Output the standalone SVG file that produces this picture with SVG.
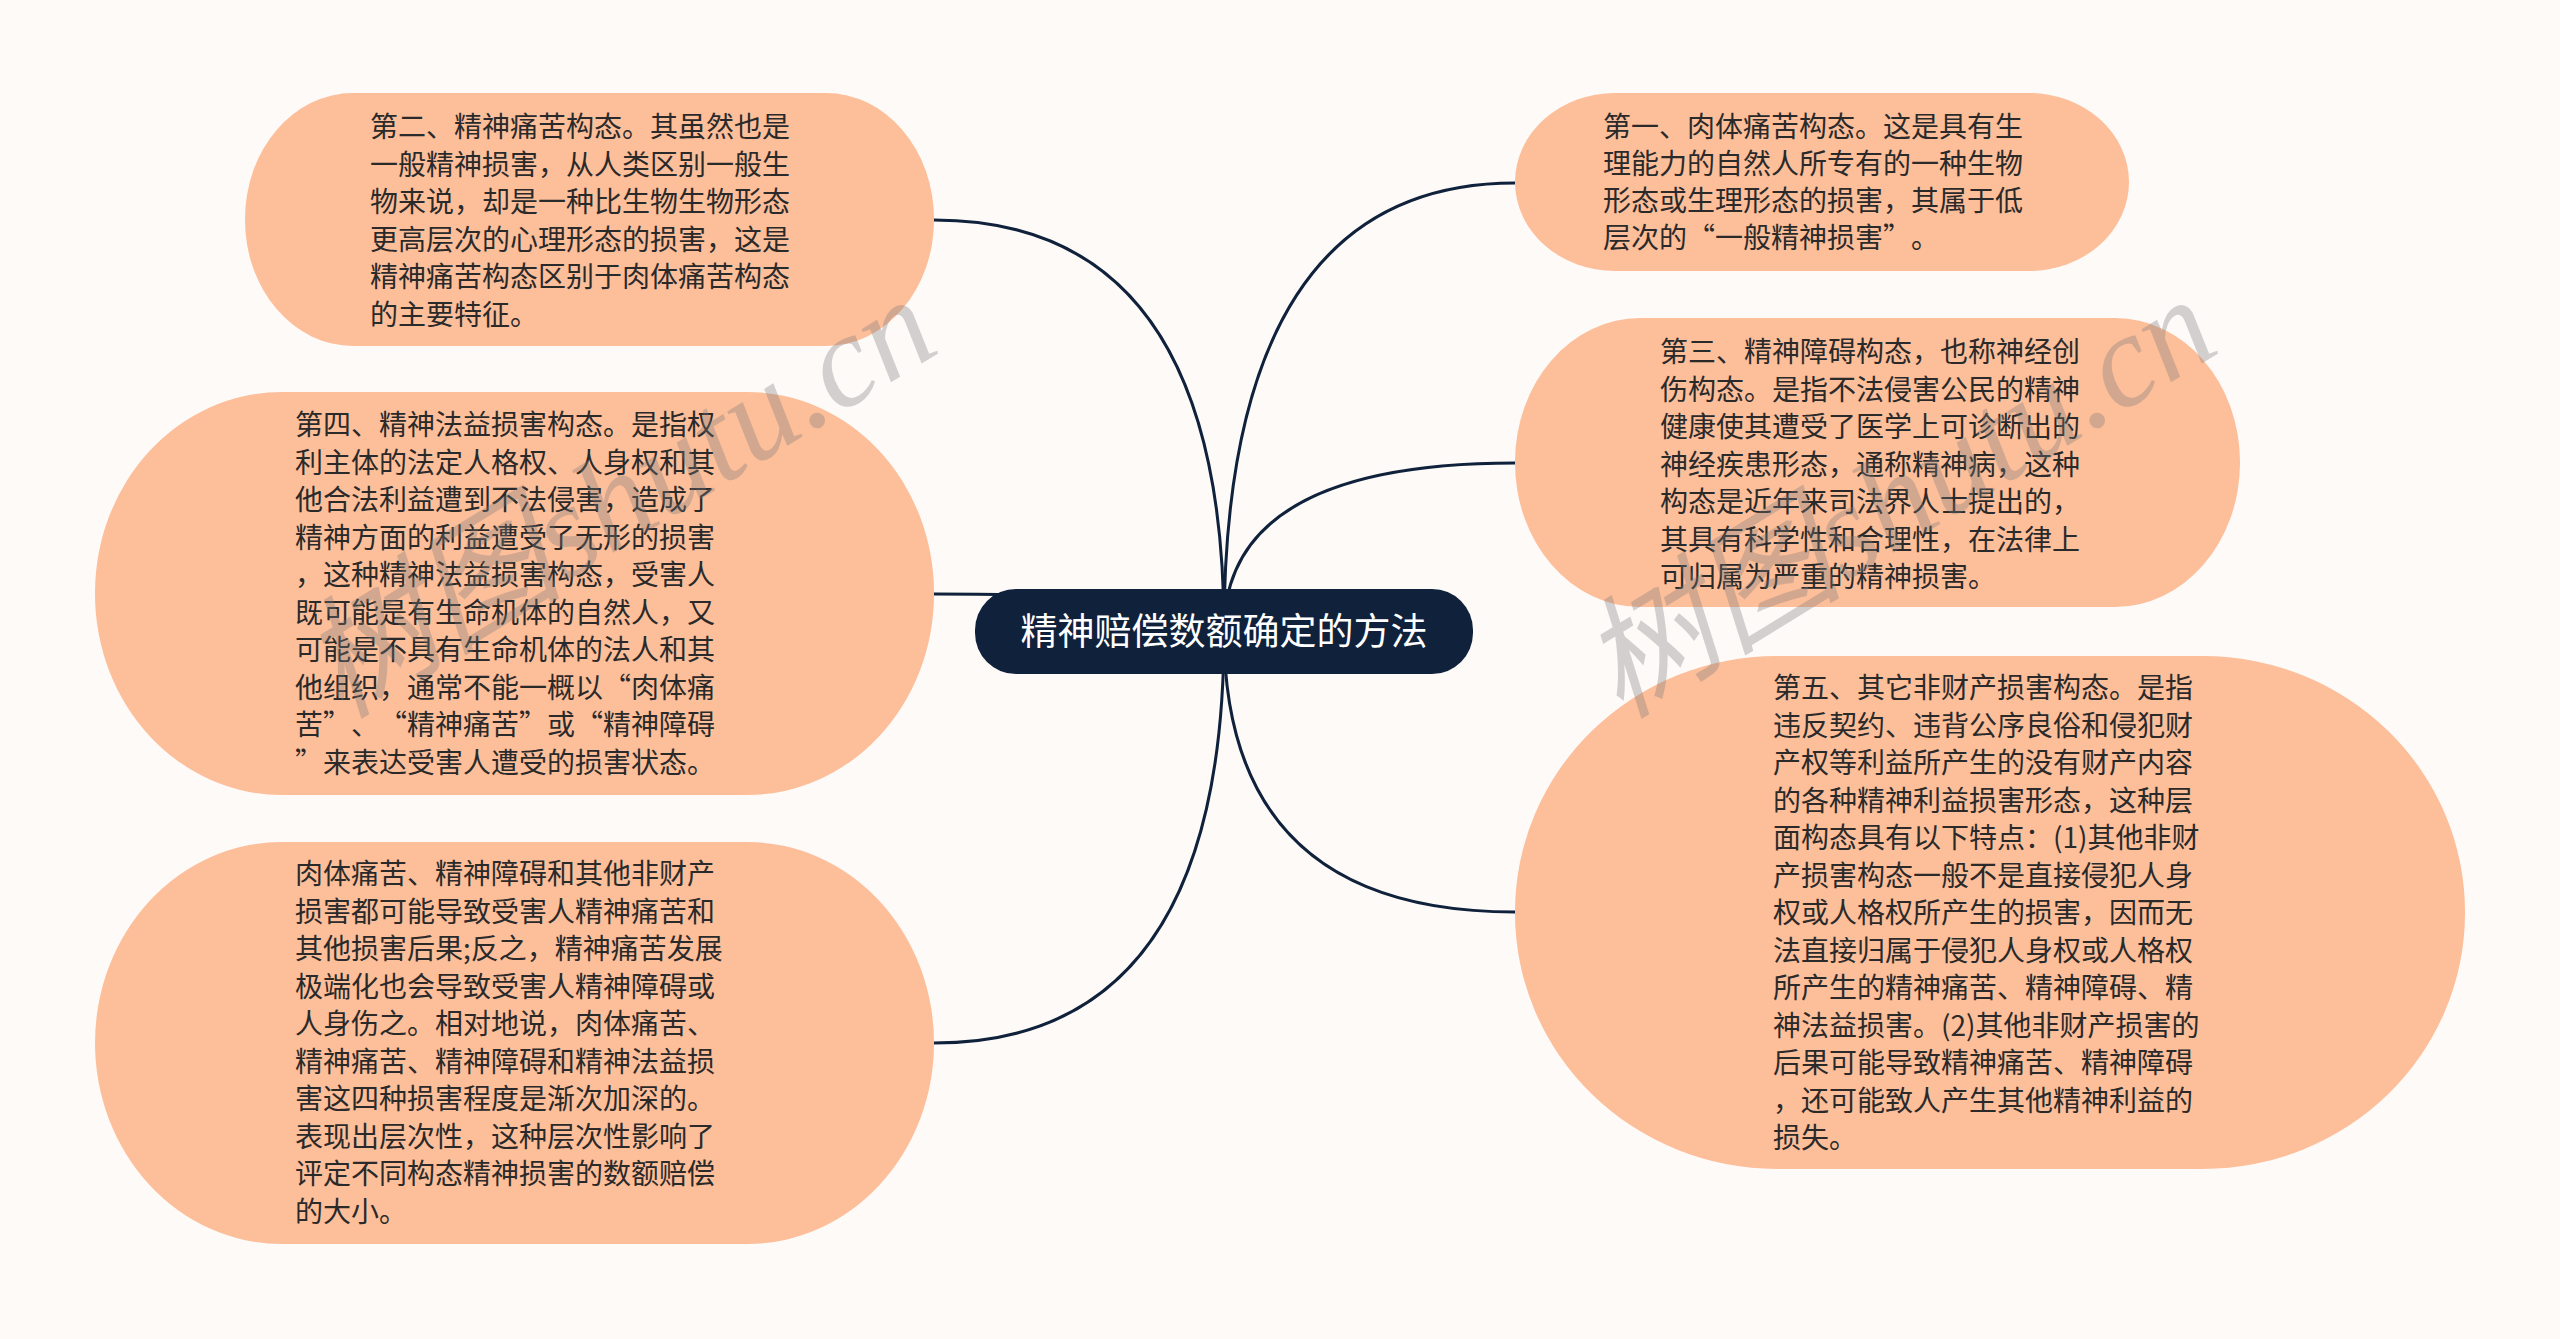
<svg xmlns="http://www.w3.org/2000/svg" width="2560" height="1339" viewBox="0 0 2560 1339">
<defs>
<style>
.node{fill:#fdbe9a;}
.t{font-family:"Noto Sans CJK SC","Noto Sans",sans-serif;font-size:28px;fill:#2a2a2a;text-spacing-trim:space-all;}
.root{fill:#0f213b;}
.rt{font-family:"Noto Sans CJK SC","Noto Sans",sans-serif;font-size:37px;fill:#ffffff;}
.edge{fill:none;stroke:#0f213b;stroke-width:3;}
.wm{font-family:"Liberation Serif","Noto Sans CJK SC",serif;font-style:italic;font-size:132px;fill:#7a7a7a;fill-opacity:0.33;}
</style>
</defs>
<rect x="0" y="0" width="2560" height="1339" fill="#fefaf8"/>
<g id="connectors">
<path class="edge" d="M1224 631 Q1224 220 934 220"/>
<path class="edge" d="M1224 631 Q1224 594 934 594"/>
<path class="edge" d="M1224 631 Q1224 1043 934 1043"/>
<path class="edge" d="M1224 631 Q1224 183 1515 183"/>
<path class="edge" d="M1224 631 Q1224 463 1515 463"/>
<path class="edge" d="M1224 631 Q1224 912 1515 912"/>
</g>
<g id="root">
<rect class="root" x="975" y="589" width="498" height="85" rx="41" ry="41"/>
<text class="rt" x="1224" y="645" text-anchor="middle">精神赔偿数额确定的方法</text>
</g>
<g id="node2">
<rect class="node" x="245" y="93" width="689" height="253" rx="108" ry="126"/>
<text class="t"><tspan x="370" y="137">第二、精神痛苦构态。其虽然也是</tspan><tspan x="370" dy="37.5">一般精神损害，从人类区别一般生</tspan><tspan x="370" dy="37.5">物来说，却是一种比生物生物形态</tspan><tspan x="370" dy="37.5">更高层次的心理形态的损害，这是</tspan><tspan x="370" dy="37.5">精神痛苦构态区别于肉体痛苦构态</tspan><tspan x="370" dy="37.5">的主要特征。</tspan></text>
</g>
<g id="node4">
<rect class="node" x="95" y="392" width="839" height="403" rx="187" ry="201"/>
<text class="t"><tspan x="295" y="435">第四、精神法益损害构态。是指权</tspan><tspan x="295" dy="37.5">利主体的法定人格权、人身权和其</tspan><tspan x="295" dy="37.5">他合法利益遭到不法侵害，造成了</tspan><tspan x="295" dy="37.5">精神方面的利益遭受了无形的损害</tspan><tspan x="295" dy="37.5">，这种精神法益损害构态，受害人</tspan><tspan x="295" dy="37.5">既可能是有生命机体的自然人，又</tspan><tspan x="295" dy="37.5">可能是不具有生命机体的法人和其</tspan><tspan x="295" dy="37.5">他组织，通常不能一概以“肉体痛</tspan><tspan x="295" dy="37.5">苦”、“精神痛苦”或“精神障碍</tspan><tspan x="295" dy="37.5">”来表达受害人遭受的损害状态。</tspan></text>
</g>
<g id="node6">
<rect class="node" x="95" y="842" width="839" height="402" rx="187" ry="201"/>
<text class="t"><tspan x="295" y="884">肉体痛苦、精神障碍和其他非财产</tspan><tspan x="295" dy="37.5">损害都可能导致受害人精神痛苦和</tspan><tspan x="295" dy="37.5">其他损害后果;反之，精神痛苦发展</tspan><tspan x="295" dy="37.5">极端化也会导致受害人精神障碍或</tspan><tspan x="295" dy="37.5">人身伤之。相对地说，肉体痛苦、</tspan><tspan x="295" dy="37.5">精神痛苦、精神障碍和精神法益损</tspan><tspan x="295" dy="37.5">害这四种损害程度是渐次加深的。</tspan><tspan x="295" dy="37.5">表现出层次性，这种层次性影响了</tspan><tspan x="295" dy="37.5">评定不同构态精神损害的数额赔偿</tspan><tspan x="295" dy="37.5">的大小。</tspan></text>
</g>
<g id="node1">
<rect class="node" x="1515" y="93" width="614" height="178" rx="100" ry="89"/>
<text class="t"><tspan x="1603" y="137">第一、肉体痛苦构态。这是具有生</tspan><tspan x="1603" dy="37">理能力的自然人所专有的一种生物</tspan><tspan x="1603" dy="37">形态或生理形态的损害，其属于低</tspan><tspan x="1603" dy="37">层次的“一般精神损害”。</tspan></text>
</g>
<g id="node3">
<rect class="node" x="1515" y="318" width="725" height="289" rx="125" ry="144"/>
<text class="t"><tspan x="1660" y="362">第三、精神障碍构态，也称神经创</tspan><tspan x="1660" dy="37.5">伤构态。是指不法侵害公民的精神</tspan><tspan x="1660" dy="37.5">健康使其遭受了医学上可诊断出的</tspan><tspan x="1660" dy="37.5">神经疾患形态，通称精神病，这种</tspan><tspan x="1660" dy="37.5">构态是近年来司法界人士提出的，</tspan><tspan x="1660" dy="37.5">其具有科学性和合理性，在法律上</tspan><tspan x="1660" dy="37.5">可归属为严重的精神损害。</tspan></text>
</g>
<g id="node5">
<rect class="node" x="1515" y="656" width="950" height="513" rx="262" ry="256"/>
<text class="t"><tspan x="1773" y="698">第五、其它非财产损害构态。是指</tspan><tspan x="1773" dy="37.5">违反契约、违背公序良俗和侵犯财</tspan><tspan x="1773" dy="37.5">产权等利益所产生的没有财产内容</tspan><tspan x="1773" dy="37.5">的各种精神利益损害形态，这种层</tspan><tspan x="1773" dy="37.5">面构态具有以下特点：(1)其他非财</tspan><tspan x="1773" dy="37.5">产损害构态一般不是直接侵犯人身</tspan><tspan x="1773" dy="37.5">权或人格权所产生的损害，因而无</tspan><tspan x="1773" dy="37.5">法直接归属于侵犯人身权或人格权</tspan><tspan x="1773" dy="37.5">所产生的精神痛苦、精神障碍、精</tspan><tspan x="1773" dy="37.5">神法益损害。(2)其他非财产损害的</tspan><tspan x="1773" dy="37.5">后果可能导致精神痛苦、精神障碍</tspan><tspan x="1773" dy="37.5">，还可能致人产生其他精神利益的</tspan><tspan x="1773" dy="37.5">损失。</tspan></text>
</g>
<g id="watermarks">
<text class="wm" x="340" y="720" transform="rotate(-31.5 340 720)">树图shutu.cn</text>
<text class="wm" x="1620" y="720" transform="rotate(-31.5 1620 720)">树图shutu.cn</text>
</g>
</svg>
